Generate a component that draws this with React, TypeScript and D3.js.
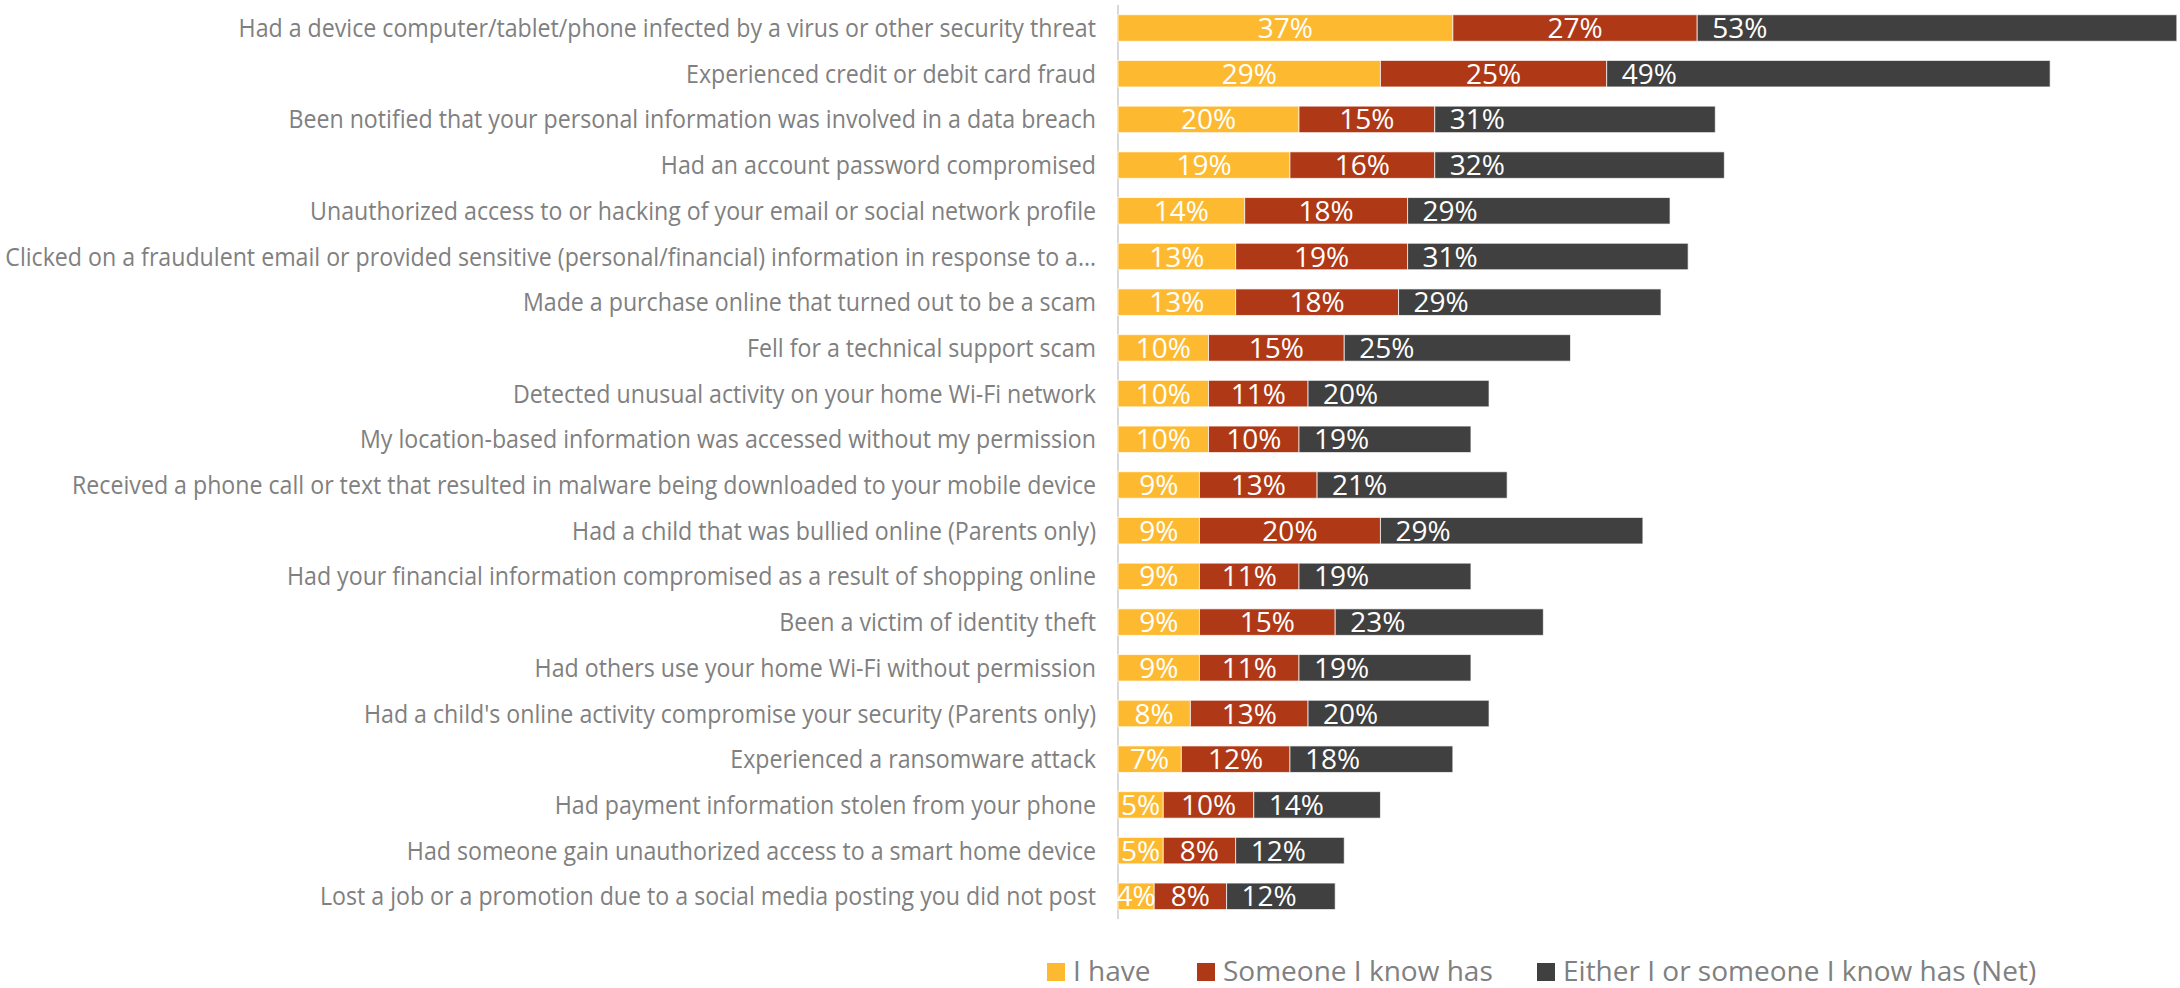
import React from "react";
import * as d3 from "d3";

const categories: string[] = [
  "Had a device computer/tablet/phone infected by a virus or other security threat",
  "Experienced credit or debit card fraud",
  "Been notified that your personal information was involved in a data breach",
  "Had an account password compromised",
  "Unauthorized access to or hacking of your email or social network profile",
  "Clicked on a fraudulent email or provided sensitive (personal/financial) information in response to a…",
  "Made a purchase online that turned out to be a scam",
  "Fell for a technical support scam",
  "Detected unusual activity on your home Wi-Fi network",
  "My location-based information was accessed without my permission",
  "Received a phone call or text that resulted in malware being downloaded to your mobile device",
  "Had a child that was bullied online (Parents only)",
  "Had your financial information compromised as a result of shopping online",
  "Been a victim of identity theft",
  "Had others use your home Wi-Fi without permission",
  "Had a child's online activity compromise your security (Parents only)",
  "Experienced a ransomware attack",
  "Had payment information stolen from your phone",
  "Had someone gain unauthorized access to a smart home device",
  "Lost a job or a promotion due to a social media posting you did not post",
];

const iHave: number[] = [37, 29, 20, 19, 14, 13, 13, 10, 10, 10, 9, 9, 9, 9, 9, 8, 7, 5, 5, 4];
const someoneHas: number[] = [27, 25, 15, 16, 18, 19, 18, 15, 11, 10, 13, 20, 11, 15, 11, 13, 12, 10, 8, 8];
const eitherNet: number[] = [53, 49, 31, 32, 29, 31, 29, 25, 20, 19, 21, 29, 19, 23, 19, 20, 18, 14, 12, 12];

const seriesNames: string[] = ["I have", "Someone I know has", "Either I or someone I know has (Net)"];
const seriesColors: string[] = ["#FDBA31", "#AF3816", "#404040"];

const W = 2180;
const H = 988;
const FONT = "'Open Sans', 'Noto Sans', sans-serif";

export default function App() {
  const x = d3.scaleLinear().domain([0, 117.35]).range([1118, 2180]);
  const y = d3
    .scaleBand<string>()
    .domain(categories)
    .range([5.15, 919.15])
    .paddingInner(0.42)
    .paddingOuter(0.21);

  const series = [iHave, someoneHas, eitherNet];
  const stacked = categories.map((c, i) => {
    let acc = 0;
    return series.map((s, k) => {
      const x0 = acc;
      acc += s[i];
      return { k, x0, x1: acc, v: s[i] };
    });
  });

  const legendX = [1047, 1197, 1537];

  return (
    <svg
      width={W}
      height={H}
      style={{ position: "absolute", left: 0, top: 0, background: "#fff" }}
      fontFamily={FONT}
    >
      <line x1={x(0)} x2={x(0)} y1={5} y2={919} stroke="#D9D9D9" strokeWidth={2} />
      {categories.map((c, i) => {
        const yy = (y(c) as number) + y.bandwidth() / 2;
        return (
          <g key={c}>
            <text
              transform={`translate(1096,${yy + 9}) scale(0.927,1)`}
              textAnchor="end"
              fontSize={25}
              fill="#808080"
            >
              {c}
            </text>
            {stacked[i].map((seg) => (
              <rect
                key={seg.k}
                x={x(seg.x0)}
                y={y(c)}
                width={x(seg.x1) - x(seg.x0)}
                height={y.bandwidth()}
                fill={seriesColors[seg.k]}
                stroke="#fff"
                strokeOpacity={0.7}
                strokeWidth={1}
              />
            ))}
            {stacked[i].map((seg) => (
              <text
                key={"t" + seg.k}
                x={seg.k === 2 ? x(seg.x0) + 15 : (x(seg.x0) + x(seg.x1)) / 2}
                y={yy + 10}
                textAnchor={seg.k === 2 ? "start" : "middle"}
                fontSize={28}
                fill="#fff"
              >
                {seg.v + "%"}
              </text>
            ))}
          </g>
        );
      })}
      {seriesNames.map((n, k) => (
        <g key={n}>
          <rect x={legendX[k]} y={963} width={18} height={18} fill={seriesColors[k]} />
          <text x={legendX[k] + 26} y={981} fontSize={28} fill="#808080">
            {n}
          </text>
        </g>
      ))}
    </svg>
  );
}
